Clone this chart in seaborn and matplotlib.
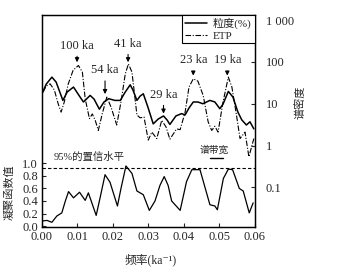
import matplotlib
matplotlib.use("Agg")
import matplotlib.pyplot as plt
from matplotlib.ticker import NullLocator
import seaborn as sns
import numpy as np

# grain size spectrum (粒度)
gs_freq = [0.0000, 0.0012, 0.0028, 0.0040, 0.0059, 0.0071, 0.0089, 0.0102, 0.0117, 0.0136,
           0.0147, 0.0162, 0.0175, 0.0188, 0.0206, 0.0221, 0.0235, 0.0249, 0.0257, 0.0268,
           0.0277, 0.0286, 0.0299, 0.0314, 0.0328, 0.0343, 0.0353, 0.0361, 0.0378, 0.0394,
           0.0404, 0.0415, 0.0427, 0.0440, 0.0454, 0.0474, 0.0488, 0.0502, 0.0511, 0.0526,
           0.0539, 0.0553, 0.0564, 0.0577, 0.0587, 0.0598]
gs_power = [17.3, 29.4, 43.2, 32.9, 12.0, 19.0, 25.0, 17.0, 11.0, 15.8,
            12.9, 7.4, 11.0, 13.2, 12.0, 12.0, 19.0, 28.3, 21.0, 12.0,
            15.2, 17.3, 8.3, 3.3, 4.3, 5.1, 4.1, 3.2, 5.1, 5.8,
            5.4, 7.9, 11.0, 11.0, 10.0, 12.0, 11.0, 7.6, 9.8, 19.7,
            14.4, 6.3, 4.1, 3.1, 3.7, 2.5]

# ETP spectrum
etp_freq = [0.0003, 0.0012, 0.0023, 0.0035, 0.0046, 0.0054, 0.0063, 0.0074, 0.0088, 0.0103,
            0.0114, 0.0122, 0.0134, 0.0142, 0.0150, 0.0159, 0.0170, 0.0183, 0.0195, 0.0211,
            0.0223, 0.0235, 0.0244, 0.0254, 0.0268, 0.0277, 0.0288, 0.0300, 0.0310, 0.0324,
            0.0338, 0.0350, 0.0361, 0.0380, 0.0390, 0.0404, 0.0415, 0.0427, 0.0440, 0.0455,
            0.0469, 0.0479, 0.0488, 0.0497, 0.0511, 0.0526, 0.0536, 0.0549, 0.0559, 0.0573,
            0.0584, 0.0598]
etp_power = [19.0, 26.4, 29.9, 21.2, 9.8, 6.3, 11.0, 29.4, 63.4, 82.0,
             56.9, 13.2, 4.4, 5.7, 4.1, 2.3, 5.7, 14.4, 8.3, 3.1,
             11.0, 51.0, 89.6, 56.9, 5.4, 4.6, 4.8, 1.35, 2.1, 1.47,
             4.0, 2.8, 1.42, 2.5, 2.4, 6.3, 25.0, 39.4, 34.7, 15.8,
             3.7, 2.3, 2.9, 2.1, 11.0, 43.2, 25.0, 5.3, 1.47, 2.1,
             0.54, 1.47]

# coherence
coh_freq = [0.0000, 0.0014, 0.0028, 0.0042, 0.0056, 0.0066, 0.0075, 0.0089, 0.0106, 0.0122,
            0.0131, 0.0153, 0.0164, 0.0178, 0.0192, 0.0213, 0.0223, 0.0237, 0.0254, 0.0268,
            0.0286, 0.0303, 0.0319, 0.0333, 0.0345, 0.0356, 0.0366, 0.0390, 0.0408, 0.0423,
            0.0446, 0.0460, 0.0474, 0.0488, 0.0495, 0.0512, 0.0526, 0.0538, 0.0557, 0.0568,
            0.0585, 0.0596]
coh_value = [0.08, 0.09, 0.06, 0.16, 0.21, 0.40, 0.55, 0.45, 0.54, 0.41,
             0.53, 0.17, 0.45, 0.82, 0.70, 0.32, 0.60, 0.96, 0.84, 0.56,
             0.50, 0.25, 0.40, 0.65, 0.79, 0.65, 0.40, 0.25, 0.71, 0.90,
             0.90, 0.62, 0.34, 0.32, 0.26, 0.76, 0.91, 0.90, 0.60, 0.56,
             0.21, 0.37]

conf_level = 0.92
bandwidth = [0.0474, 0.0512]

peak_labels = ["100 ka", "54 ka", "41 ka", "29 ka", "23 ka", "19 ka"]
peak_freq = [0.0099, 0.0178, 0.0243, 0.0343, 0.0427, 0.0523]
peak_tip = [98, 17, 98, 5.8, 47, 47]
peak_text = [245, 63, 270, 16.4, 108, 108]

sns.set_style("ticks")
plt.rcParams["font.family"] = ["Liberation Serif", "Noto Sans CJK SC", "DejaVu Sans"]
plt.rcParams["font.size"] = 9

fig, ax = plt.subplots(figsize=(3.44, 2.69), dpi=100)
fig.subplots_adjust(left=0.122, right=0.740, bottom=0.156, top=0.944)

sns.lineplot(x=coh_freq, y=coh_value, ax=ax, color="k", lw=0.9, sort=False)
ax.axhline(conf_level, color="k", lw=0.8, ls=(0, (3, 2)))
ax.set_xlim(0, 0.06)
ax.set_ylim(-0.016, 3.37)
ax.set_yticks([0.0, 0.2, 0.4, 0.6, 0.8, 1.0])
ax.set_yticklabels(["0.0", "0.2", "0.4", "0.6", "0.8", "1.0"])
ax.set_xticks([0.00, 0.01, 0.02, 0.03, 0.04, 0.05, 0.06])
ax.set_xticklabels(["0.00", "0.01", "0.02", "0.03", "0.04", "0.05", "0.06"])
ax.tick_params(direction="in", length=3, width=0.8, pad=3, labelsize=9)
ax.set_ylabel("凝聚函数值", fontsize=8)
ax.yaxis.set_label_coords(-0.13, 0.165)
ax.set_xlabel("频率(ka⁻¹)", fontsize=8.5)
ax.xaxis.set_label_coords(0.51, -0.125)

ax.text(0.0032, 1.10, "95%的置信水平", fontsize=7.5, va="center", ha="left")
ax.text(0.0486, 1.21, "谱带宽", fontsize=7, va="center", ha="center")
ax.plot(bandwidth, [1.09, 1.09], color="k", lw=1)

ax2 = ax.twinx()
sns.lineplot(x=gs_freq, y=gs_power, ax=ax2, color="k", lw=1.1, sort=False, label="粒度(%)")
sns.lineplot(x=etp_freq, y=etp_power, ax=ax2, color="k", lw=0.8, sort=False, label="ETP")
ax2.lines[1].set_dashes([5, 1.5, 1, 1.5])
ax2.set_yscale("log")
ax2.set_ylim(0.0113, 1315)
ax2.set_yticks([0.1, 1, 10, 100, 1000])
ax2.set_yticklabels(["0.1", "1", "10", "100", "1 000"])
ax2.yaxis.set_minor_locator(NullLocator())
ax2.tick_params(direction="in", length=3, width=0.8, pad=8, labelsize=9)
ax2.set_ylabel("谱密度", fontsize=8, rotation=90)
ax2.yaxis.set_label_coords(1.19, 0.59)

for lab, f, tip, txt in zip(peak_labels, peak_freq, peak_tip, peak_text):
    ax2.annotate(lab, xy=(f, tip), xytext=(f, txt), ha="center", va="center", fontsize=9,
                 arrowprops=dict(arrowstyle="-|>", color="k", lw=0.8, mutation_scale=6,
                                 shrinkA=1, shrinkB=0))

leg = ax2.legend(loc="upper right", borderaxespad=0, fancybox=False, edgecolor="k",
                 framealpha=1, fontsize=8, handlelength=2.0, borderpad=0.25,
                 labelspacing=0.15, handletextpad=0.5)
leg.get_frame().set_linewidth(0.8)

for a in (ax, ax2):
    for s in a.spines.values():
        s.set_linewidth(0.9)
        s.set_color("k")

fig.savefig("out.png", dpi=100)
